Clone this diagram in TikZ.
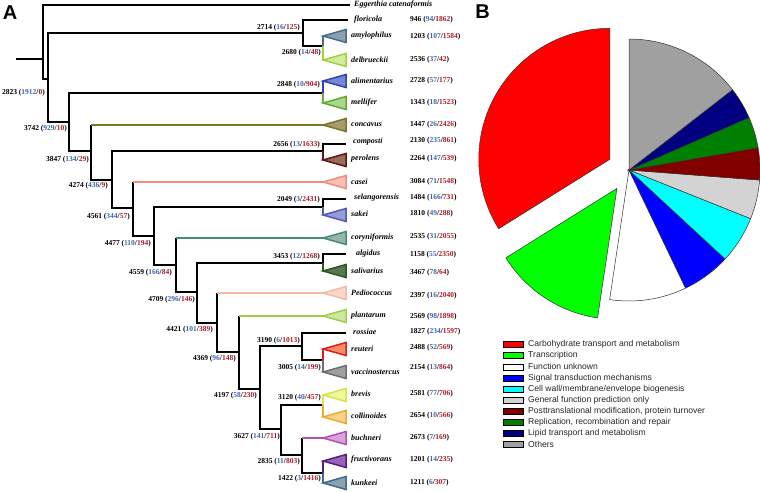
\documentclass[tikz,border=0pt]{standalone}
\usepackage{fontspec}
\setmainfont{Liberation Serif}
\newfontfamily\legfont{Liberation Sans}
\usetikzlibrary{calc}
\definecolor{nb}{RGB}{60,100,170}
\definecolor{nr}{RGB}{170,25,40}
% clade colours: stroke (s) and fill (f)
\definecolor{amys}{RGB}{70,110,140}\definecolor{amyf}{RGB}{140,160,175}
\definecolor{dels}{RGB}{160,210,60}\definecolor{delf}{RGB}{210,235,160}
\definecolor{alis}{RGB}{40,70,180}\definecolor{alif}{RGB}{120,135,210}
\definecolor{mels}{RGB}{100,170,50}\definecolor{melf}{RGB}{170,215,140}
\definecolor{cons}{RGB}{120,120,40}\definecolor{conf}{RGB}{165,155,110}
\definecolor{pers}{RGB}{100,20,20}\definecolor{perf}{RGB}{150,110,90}
\definecolor{cass}{RGB}{240,140,130}\definecolor{casf}{RGB}{248,190,180}
\definecolor{saks}{RGB}{80,90,190}\definecolor{sakf}{RGB}{150,155,215}
\definecolor{cors}{RGB}{70,140,125}\definecolor{corf}{RGB}{150,180,170}
\definecolor{sals}{RGB}{40,90,30}\definecolor{salf}{RGB}{90,120,80}
\definecolor{peds}{RGB}{245,185,165}\definecolor{pedf}{RGB}{250,215,200}
\definecolor{plas}{RGB}{160,205,80}\definecolor{plaf}{RGB}{205,230,160}
\definecolor{reus}{RGB}{220,30,30}\definecolor{reuf}{RGB}{245,140,100}
\definecolor{vacs}{RGB}{110,110,110}\definecolor{vacf}{RGB}{160,160,160}
\definecolor{bres}{RGB}{215,230,70}\definecolor{bref}{RGB}{240,245,160}
\definecolor{cols}{RGB}{240,170,50}\definecolor{colf}{RGB}{250,210,140}
\definecolor{bucs}{RGB}{180,80,180}\definecolor{bucf}{RGB}{215,165,215}
\definecolor{frus}{RGB}{90,30,130}\definecolor{fruf}{RGB}{150,100,180}
\definecolor{kuns}{RGB}{60,110,140}\definecolor{kunf}{RGB}{140,160,175}
% pie colours
\definecolor{pred}{RGB}{255,0,0}
\definecolor{pgreen}{RGB}{0,255,0}
\definecolor{pblue}{RGB}{0,0,255}
\definecolor{pcyan}{RGB}{0,255,255}
\definecolor{pgray}{RGB}{160,160,160}
\definecolor{plgray}{RGB}{211,211,211}
\definecolor{pdred}{RGB}{128,0,0}
\definecolor{pdgreen}{RGB}{0,128,0}
\definecolor{pnavy}{RGB}{0,0,128}
\newcommand{\numtrip}[3]{#1 (\textcolor{nb}{#2}/\textcolor{nr}{#3})}
\newcommand{\cladetri}[3]{\filldraw[draw=#2,fill=#3,line width=1.5pt,line join=miter] (#1) -- ++(23,-6.5) -- ++(0,13) -- cycle;}
\begin{document}
\begin{tikzpicture}[x=1pt,y=-1pt,
  br/.style={line width=1.8pt},
  sp/.style={font=\bfseries\itshape\fontsize{8}{9}\selectfont,anchor=west,inner sep=0pt},
  num/.style={font=\bfseries\fontsize{7.5}{9}\selectfont,anchor=west,inner sep=0pt},
  inl/.style={font=\bfseries\fontsize{7.5}{9}\selectfont,anchor=east,inner sep=0pt},
  legbox/.style={draw=black,line width=0.5pt,minimum width=20pt,minimum height=6pt,inner sep=0pt},
  legtxt/.style={font=\legfont\fontsize{8.6}{10}\selectfont,anchor=west,inner sep=0pt,text=black!85},
  slice/.style={draw=black!80,line width=0.5pt},
  panel/.style={font=\legfont\bfseries\fontsize{20}{22}\selectfont,inner sep=0pt}]
\useasboundingbox (0,0) rectangle (760,491);

\node[panel] (pA) at (10,12.5) {A};
\node[panel] (pB) at (482.5,11.5) {B};

% ---------- tree coordinates ----------
\coordinate (stub) at (16,59);
\coordinate (root) at (43,59);
\coordinate (N1) at (48,79);
\coordinate (Egg) at (350,5);
\coordinate (n2714) at (303,33);
\coordinate (flo) at (348,20);
\coordinate (n2680) at (323,46);
\coordinate (amy) at (323,36);
\coordinate (del) at (323,60);
\coordinate (N2) at (69,122);
\coordinate (n2848) at (323,93);
\coordinate (ali) at (323,81);
\coordinate (mel) at (323,103);
\coordinate (N3) at (91,151);
\coordinate (con) at (323,125);
\coordinate (N4) at (112,180);
\coordinate (n2656) at (323,151);
\coordinate (com) at (346,144);
\coordinate (per) at (323,160);
\coordinate (N5) at (133,208);
\coordinate (cas) at (323,182);
\coordinate (N6) at (154,236);
\coordinate (n2049) at (323,207);
\coordinate (sel) at (346,199);
\coordinate (sak) at (323,215);
\coordinate (N7) at (176,265);
\coordinate (cor) at (323,238);
\coordinate (N8) at (197,292);
\coordinate (n3453) at (323,263);
\coordinate (alg) at (346,254);
\coordinate (sal) at (323,271);
\coordinate (N9) at (217,323);
\coordinate (ped) at (323,293);
\coordinate (N10) at (239,352);
\coordinate (pla) at (323,316);
\coordinate (N11) at (260,389);
\coordinate (n3190) at (302,346);
\coordinate (ros) at (346,333);
\coordinate (n3005) at (323,360);
\coordinate (reu) at (323,349);
\coordinate (vac) at (323,372);
\coordinate (n3627) at (281,429);
\coordinate (n3120) at (323,405);
\coordinate (bre) at (323,395);
\coordinate (col) at (323,417);
\coordinate (n2835) at (302,455);
\coordinate (buc) at (323,438);
\coordinate (n1422) at (323,473);
\coordinate (fru) at (323,461);
\coordinate (kun) at (323,483);

% ---------- black branches ----------
\draw[br] (stub) -- (root);
\draw[br] (root) |- (Egg);
\draw[br] (root) |- (N1);
\draw[br] (N1) |- (n2714);
\draw[br] (N1) |- (N2);
\draw[br] (n2714) |- (flo);
\draw[br] (n2714) |- (n2680);
\draw[br] (N2) |- (n2848);
\draw[br] (N2) |- (N3);
\draw[br] (N3) |- (N4);
\draw[br] (N3) -- (N3 |- con);
\draw[br] (N4) |- (n2656);
\draw[br] (N4) |- (N5);
\draw[br] (n2656) |- (com);
\draw[br] (N5) |- (N6);
\draw[br] (N5) -- (N5 |- cas);
\draw[br] (N6) |- (n2049);
\draw[br] (N6) |- (N7);
\draw[br] (n2049) |- (sel);
\draw[br] (N7) |- (N8);
\draw[br] (N7) -- (N7 |- cor);
\draw[br] (N8) |- (n3453);
\draw[br] (N8) |- (N9);
\draw[br] (n3453) |- (alg);
\draw[br] (N9) |- (N10);
\draw[br] (N9) -- (N9 |- ped);
\draw[br] (N10) |- (N11);
\draw[br] (N10) -- (N10 |- pla);
\draw[br] (N11) |- (n3190);
\draw[br] (N11) |- (n3627);
\draw[br] (n3190) |- (ros);
\draw[br] (n3190) |- (n3005);
\draw[br] (n3627) |- (n3120);
\draw[br] (n3627) |- (n2835);
\draw[br] (n2835) |- (n1422);
\draw[br] (n2835) -- (n2835 |- buc);

% ---------- coloured branches ----------
\draw[br,cons] (N3 |- con) -- (con);
\draw[br,cass] (N5 |- cas) -- (cas);
\draw[br,cors] (N7 |- cor) -- (cor);
\draw[br,peds] (N9 |- ped) -- (ped);
\draw[br,plas] (N10 |- pla) -- (pla);
\draw[br,bucs] (n2835 |- buc) -- (buc);
\draw[br,amys] (n2680) -- (amy);
\draw[br,dels] (n2680) -- (del);
\draw[br,alis] (n2848) -- (ali);
\draw[br,mels] (n2848) -- (mel);
\draw[br,pers] (n2656) -- (per);
\draw[br,saks] (n2049) -- (sak);
\draw[br,sals] (n3453) -- (sal);
\draw[br,reus] (n3005) -- (reu);
\draw[br,vacs] (n3005) -- (vac);
\draw[br,bres] (n3120) -- (bre);
\draw[br,cols] (n3120) -- (col);
\draw[br,frus] (n1422) -- (fru);
\draw[br,kuns] (n1422) -- (kun);

% ---------- collapsed clades ----------
\cladetri{amy}{amys}{amyf}
\cladetri{del}{dels}{delf}
\cladetri{ali}{alis}{alif}
\cladetri{mel}{mels}{melf}
\cladetri{con}{cons}{conf}
\cladetri{per}{pers}{perf}
\cladetri{cas}{cass}{casf}
\cladetri{sak}{saks}{sakf}
\cladetri{cor}{cors}{corf}
\cladetri{sal}{sals}{salf}
\cladetri{ped}{peds}{pedf}
\cladetri{pla}{plas}{plaf}
\cladetri{reu}{reus}{reuf}
\cladetri{vac}{vacs}{vacf}
\cladetri{bre}{bres}{bref}
\cladetri{col}{cols}{colf}
\cladetri{buc}{bucs}{bucf}
\cladetri{fru}{frus}{fruf}
\cladetri{kun}{kuns}{kunf}

% ---------- taxon names ----------
\node[sp] (tEgg) at (354,5) {Eggerthia catenaformis};
\node[sp] (tflo) at (354,20) {floricola};
\node[sp] (tamy) at (351,36) {amylophilus};
\node[sp] (tdel) at (351,60) {delbrueckii};
\node[sp] (tali) at (351,81) {alimentarius};
\node[sp] (tmel) at (351,103) {mellifer};
\node[sp] (tcon) at (351,125) {concavus};
\node[sp] (tcom) at (353,142) {composti};
\node[sp] (tper) at (351,159) {perolens};
\node[sp] (tcas) at (351,182) {casei};
\node[sp] (tsel) at (354,198) {selangorensis};
\node[sp] (tsak) at (351,214) {sakei};
\node[sp] (tcor) at (351,238) {coryniformis};
\node[sp] (talg) at (356,254) {algidus};
\node[sp] (tsal) at (351,271) {salivarius};
\node[sp] (tped) at (351,293) {Pediococcus};
\node[sp] (tpla) at (351,316) {plantarum};
\node[sp] (tros) at (353,332) {rossiae};
\node[sp] (treu) at (351,349) {reuteri};
\node[sp] (tvac) at (351,372) {vaccinostercus};
\node[sp] (tbre) at (351,394) {brevis};
\node[sp] (tcol) at (351,416) {collinoides};
\node[sp] (tbuc) at (351,438) {buchneri};
\node[sp] (tfru) at (351,460) {fructivorans};
\node[sp] (tkun) at (351,483) {kunkeei};

% ---------- genome numbers column ----------
\node[num] (cflo) at (410,20) {\numtrip{946}{94}{1862}};
\node[num] (camy) at (410,37) {\numtrip{1203}{107}{1584}};
\node[num] (cdel) at (410,60) {\numtrip{2536}{37}{42}};
\node[num] (cali) at (410,81) {\numtrip{2728}{57}{177}};
\node[num] (cmel) at (410,103) {\numtrip{1343}{18}{1523}};
\node[num] (ccon) at (410,125) {\numtrip{1447}{26}{2426}};
\node[num] (ccom) at (410,141) {\numtrip{2130}{235}{861}};
\node[num] (cper) at (410,159) {\numtrip{2264}{147}{539}};
\node[num] (ccas) at (410,182) {\numtrip{3084}{71}{1548}};
\node[num] (csel) at (410,198) {\numtrip{1484}{166}{731}};
\node[num] (csak) at (410,214) {\numtrip{1810}{49}{288}};
\node[num] (ccor) at (410,237) {\numtrip{2535}{31}{2055}};
\node[num] (calg) at (410,255) {\numtrip{1158}{55}{2350}};
\node[num] (csal) at (410,273) {\numtrip{3467}{78}{64}};
\node[num] (cped) at (410,296) {\numtrip{2397}{16}{2040}};
\node[num] (cpla) at (410,317) {\numtrip{2569}{98}{1898}};
\node[num] (cros) at (410,332) {\numtrip{1827}{234}{1597}};
\node[num] (creu) at (410,348) {\numtrip{2488}{52}{569}};
\node[num] (cvac) at (410,368) {\numtrip{2154}{13}{864}};
\node[num] (cbre) at (410,394) {\numtrip{2581}{77}{706}};
\node[num] (ccol) at (410,416) {\numtrip{2654}{10}{566}};
\node[num] (cbuc) at (410,438) {\numtrip{2673}{7}{169}};
\node[num] (cfru) at (410,460) {\numtrip{1201}{14}{235}};
\node[num] (ckun) at (410,483) {\numtrip{1211}{6}{307}};

% ---------- internal node labels ----------
\node[inl] (lN1) at (45,93) {\numtrip{2823}{1912}{0}};
\node[inl] (lN2) at (67,129) {\numtrip{3742}{929}{10}};
\node[inl] (lN3) at (89,160) {\numtrip{3847}{134}{29}};
\node[inl] (lN4) at (108,186) {\numtrip{4274}{436}{9}};
\node[inl] (lN5) at (130,217) {\numtrip{4561}{344}{57}};
\node[inl] (lN6) at (151,244) {\numtrip{4477}{110}{194}};
\node[inl] (lN7) at (172,273) {\numtrip{4559}{166}{84}};
\node[inl] (lN8) at (195,300) {\numtrip{4709}{296}{146}};
\node[inl] (lN9) at (213,330) {\numtrip{4421}{101}{389}};
\node[inl] (lN10) at (236,359) {\numtrip{4369}{96}{148}};
\node[inl] (lN11) at (257,396) {\numtrip{4197}{58}{230}};
\node[inl] (l3627) at (280,437) {\numtrip{3627}{141}{711}};
\node[inl] (l2835) at (300,462) {\numtrip{2835}{11}{803}};
\node[inl] (l1422) at (321,479) {\numtrip{1422}{3}{1416}};
\node[inl] (l3190) at (300,341) {\numtrip{3190}{6}{1013}};
\node[inl] (l3005) at (321,368) {\numtrip{3005}{14}{199}};
\node[inl] (l3120) at (321,398) {\numtrip{3120}{40}{457}};
\node[inl] (l3453) at (320,257) {\numtrip{3453}{12}{1268}};
\node[inl] (l2049) at (320,200) {\numtrip{2049}{3}{2431}};
\node[inl] (l2656) at (320,145) {\numtrip{2656}{13}{1633}};
\node[inl] (l2848) at (320,85) {\numtrip{2848}{10}{904}};
\node[inl] (l2714) at (300,28) {\numtrip{2714}{16}{125}};
\node[inl] (l2680) at (321,53) {\numtrip{2680}{14}{48}};

% ---------- pie chart ----------
\coordinate (pc) at (629,170);
\path (pc) ++(151:22pt) coordinate (redap);
\path (pc) ++(236.75:22pt) coordinate (grnap);
\filldraw[slice,fill=pred] (redap) -- ++(90:131pt) arc[start angle=90,end angle=212,radius=131pt] -- cycle;
\filldraw[slice,fill=pgreen] (grnap) -- ++(212:131pt) arc[start angle=212,end angle=261.5,radius=131pt] -- cycle;
\filldraw[slice,fill=white] (pc) -- ++(261.5:131pt) arc[start angle=261.5,end angle=295.6,radius=131pt] -- cycle;
\filldraw[slice,fill=pblue] (pc) -- ++(295.6:131pt) arc[start angle=295.6,end angle=317.2,radius=131pt] -- cycle;
\filldraw[slice,fill=pcyan] (pc) -- ++(317.2:131pt) arc[start angle=317.2,end angle=338.2,radius=131pt] -- cycle;
\filldraw[slice,fill=plgray] (pc) -- ++(338.2:131pt) arc[start angle=338.2,end angle=355.6,radius=131pt] -- cycle;
\filldraw[slice,fill=pdred] (pc) -- ++(355.6:131pt) arc[start angle=355.6,end angle=369.8,radius=131pt] -- cycle;
\filldraw[slice,fill=pdgreen] (pc) -- ++(9.8:131pt) arc[start angle=9.8,end angle=23.6,radius=131pt] -- cycle;
\filldraw[slice,fill=pnavy] (pc) -- ++(23.6:131pt) arc[start angle=23.6,end angle=37.8,radius=131pt] -- cycle;
\filldraw[slice,fill=pgray] (pc) -- ++(37.8:131pt) arc[start angle=37.8,end angle=90,radius=131pt] -- cycle;

% ---------- legend ----------
\node[legbox,fill=pred] (lb1) at (513,344.7) {};
\node[legtxt] (lt1) at (528,344.7) {Carbohydrate transport and metabolism};
\node[legbox,fill=pgreen] (lb2) at (513,355.7) {};
\node[legtxt] (lt2) at (528,355.7) {Transcription};
\node[legbox,fill=white] (lb3) at (513,366.8) {};
\node[legtxt] (lt3) at (528,366.8) {Function unknown};
\node[legbox,fill=pblue] (lb4) at (513,377.8) {};
\node[legtxt] (lt4) at (528,377.8) {Signal transduction mechanisms};
\node[legbox,fill=pcyan] (lb5) at (513,388.9) {};
\node[legtxt] (lt5) at (528,388.9) {Cell wall/membrane/envelope biogenesis};
\node[legbox,fill=plgray] (lb6) at (513,399.9) {};
\node[legtxt] (lt6) at (528,399.9) {General function prediction only};
\node[legbox,fill=pdred] (lb7) at (513,411) {};
\node[legtxt] (lt7) at (528,411) {Posttranslational modification, protein turnover};
\node[legbox,fill=pdgreen] (lb8) at (513,422) {};
\node[legtxt] (lt8) at (528,422) {Replication, recombination and repair};
\node[legbox,fill=pnavy] (lb9) at (513,433.1) {};
\node[legtxt] (lt9) at (528,433.1) {Lipid transport and metabolism};
\node[legbox,fill=pgray] (lb10) at (513,444.1) {};
\node[legtxt] (lt10) at (528,444.1) {Others};
\end{tikzpicture}
\end{document}
